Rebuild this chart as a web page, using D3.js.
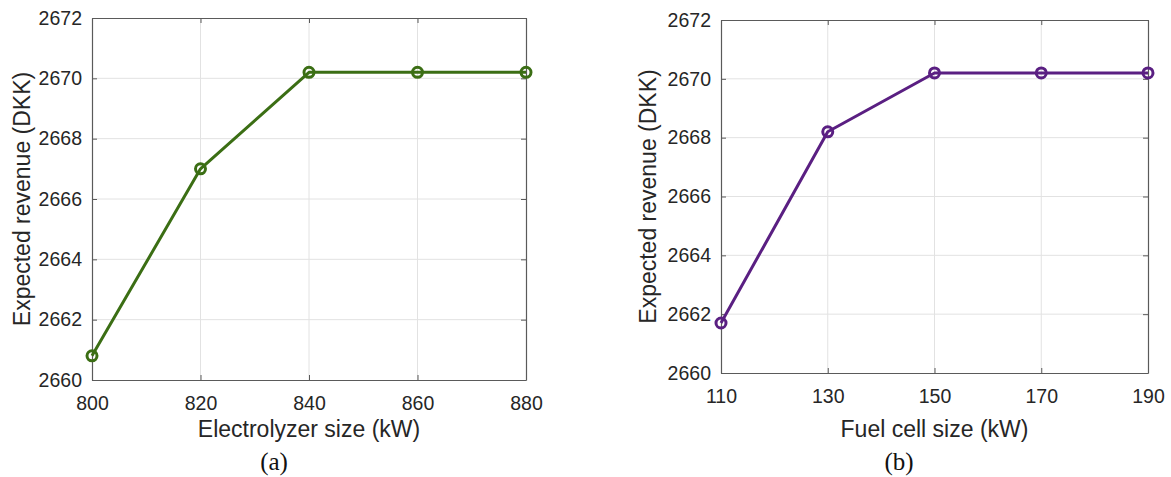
<!DOCTYPE html>
<html>
<head>
<meta charset="utf-8">
<script src="https://cdn.jsdelivr.net/npm/d3@7/dist/d3.min.js"></script>
<style>
  html, body { margin: 0; padding: 0; background: #fff; }
  svg { display: block; }
</style>
</head>
<body>
<svg id="chart" width="1171" height="477"></svg>
<script>
// Panel (a): expected revenue vs electrolyzer size
const electrolyzerSizes = [800, 820, 840, 860, 880];
const revenueA = [2660.8, 2667.0, 2670.2, 2670.2, 2670.2];
const xTicksA = [800, 820, 840, 860, 880];

// Panel (b): expected revenue vs fuel cell size
const fuelCellSizes = [110, 130, 150, 170, 190];
const revenueB = [2661.7, 2668.2, 2670.2, 2670.2, 2670.2];
const xTicksB = [110, 130, 150, 170, 190];

const yTicks = [2660, 2662, 2664, 2666, 2668, 2670, 2672];
const yLabel = "Expected revenue (DKK)";

const sans = "Liberation Sans, Arial, Helvetica, sans-serif";
const serif = "Liberation Serif, Times New Roman, serif";
const svg = d3.select("#chart");

function drawPanel(cfg) {
  const { left, right, top, bottom, xs, ys, xTicks, xDomain, color, xLabel, caption,
          xLabelY, captionX, captionY, yLabelX } = cfg;
  const g = svg.append("g");
  const x = d3.scaleLinear().domain(xDomain).range([left, right]);
  const y = d3.scaleLinear().domain([2660, 2672]).range([bottom, top]);

  // grid lines
  g.append("g").selectAll("line").data(xTicks.slice(1, -1)).join("line")
    .attr("x1", d => x(d)).attr("x2", d => x(d))
    .attr("y1", top).attr("y2", bottom)
    .attr("stroke", "#e2e2e2").attr("stroke-width", 1);
  g.append("g").selectAll("line").data(yTicks.slice(1, -1)).join("line")
    .attr("x1", left).attr("x2", right)
    .attr("y1", d => y(d)).attr("y2", d => y(d))
    .attr("stroke", "#e2e2e2").attr("stroke-width", 1);

  // boxed axes with inward ticks
  const tickLen = 5;
  const axB = g.append("g").attr("transform", `translate(0,${bottom})`)
    .call(d3.axisBottom(x).tickValues(xTicks).tickSize(-tickLen).tickSizeOuter(0)
      .tickPadding(16).tickFormat(d3.format("d")));
  const axT = g.append("g").attr("transform", `translate(0,${top})`)
    .call(d3.axisTop(x).tickValues(xTicks).tickSize(-tickLen).tickSizeOuter(0).tickFormat(""));
  const axL = g.append("g").attr("transform", `translate(${left},0)`)
    .call(d3.axisLeft(y).tickValues(yTicks).tickSize(-tickLen).tickSizeOuter(0)
      .tickPadding(10).tickFormat(d3.format("d")));
  const axR = g.append("g").attr("transform", `translate(${right},0)`)
    .call(d3.axisRight(y).tickValues(yTicks).tickSize(-tickLen).tickSizeOuter(0).tickFormat(""));
  [axB, axT, axL, axR].forEach(a => {
    a.attr("font-family", sans).attr("font-size", 19.5);
    a.select(".domain").attr("stroke", "#5a5a5a").attr("stroke-width", 1.2);
    a.selectAll(".tick line").attr("stroke", "#5a5a5a");
    a.selectAll(".tick text").attr("fill", "#262626");
  });

  const pts = xs.map((v, i) => [v, ys[i]]);
  g.append("path").datum(pts)
    .attr("fill", "none").attr("stroke", color).attr("stroke-width", 3)
    .attr("stroke-linejoin", "round")
    .attr("d", d3.line().x(d => x(d[0])).y(d => y(d[1])));
  g.append("g").selectAll("circle").data(pts).join("circle")
    .attr("cx", d => x(d[0])).attr("cy", d => y(d[1])).attr("r", 5)
    .attr("fill", "none").attr("stroke", color).attr("stroke-width", 3);

  g.append("text").attr("x", (left + right) / 2).attr("y", xLabelY)
    .attr("text-anchor", "middle").attr("font-family", sans)
    .attr("font-size", 23).attr("fill", "#262626").text(xLabel);
  g.append("text")
    .attr("transform", `translate(${yLabelX},${(top + bottom) / 2}) rotate(-90)`)
    .attr("text-anchor", "middle").attr("font-family", sans)
    .attr("font-size", 23).attr("fill", "#262626").text(yLabel);
  g.append("text").attr("x", captionX).attr("y", captionY)
    .attr("text-anchor", "middle").attr("font-family", serif)
    .attr("font-size", 25).attr("fill", "#111").text(caption);
}

drawPanel({
  left: 92, right: 526, top: 18, bottom: 380,
  xs: electrolyzerSizes, ys: revenueA, xTicks: xTicksA, xDomain: [800, 880],
  color: "#3b6e14", xLabel: "Electrolyzer size (kW)", caption: "(a)",
  xLabelY: 437, captionX: 274, captionY: 470, yLabelX: 30
});

drawPanel({
  left: 721, right: 1148, top: 20, bottom: 373,
  xs: fuelCellSizes, ys: revenueB, xTicks: xTicksB, xDomain: [110, 190],
  color: "#5a1f82", xLabel: "Fuel cell size (kW)", caption: "(b)",
  xLabelY: 437, captionX: 899, captionY: 470, yLabelX: 656
});
</script>
</body>
</html>
